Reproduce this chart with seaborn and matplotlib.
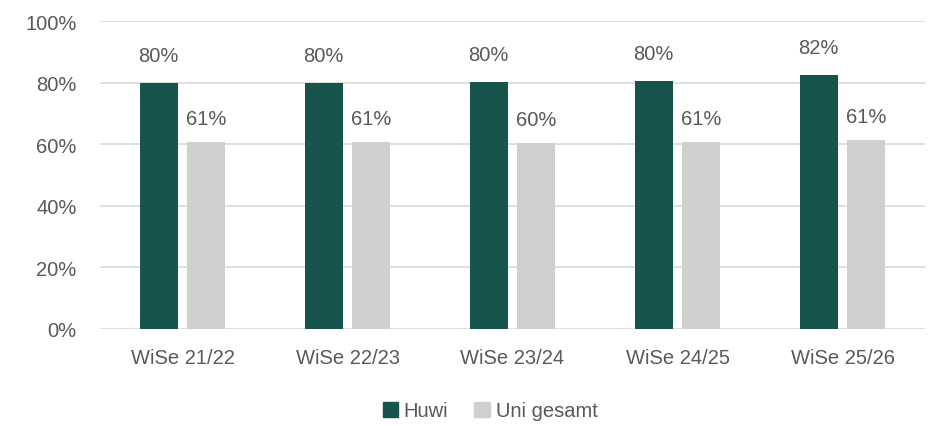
import pandas as pd
import matplotlib.pyplot as plt
import seaborn as sns
from matplotlib.patches import Patch
from matplotlib.ticker import PercentFormatter

# data
semesters = ['WiSe 21/22', 'WiSe 22/23', 'WiSe 23/24', 'WiSe 24/25', 'WiSe 25/26']
huwi = [79.9, 80.0, 80.2, 80.4, 82.4]
uni_gesamt = [60.6, 60.6, 60.4, 60.6, 61.4]
series_names = ['Huwi', 'Uni gesamt']
colors = ['#17544E', '#D0CECE']

df = pd.DataFrame({
    'Semester': semesters * 2,
    'Anteil': huwi + uni_gesamt,
    'Gruppe': [series_names[0]] * len(semesters) + [series_names[1]] * len(semesters),
})

sns.set_theme(style='white')
plt.rcParams['font.family'] = ['Liberation Sans', 'DejaVu Sans']
text_color = '#595959'
fs = 14.5

fig = plt.figure(figsize=(9.38, 4.27), dpi=100)
ax = fig.add_axes([100 / 938, 1 - 330 / 427, 825 / 938, 308 / 427])

sns.barplot(data=df, x='Semester', y='Anteil', hue='Gruppe', palette=colors,
            width=0.576, gap=0.2, ax=ax, legend=False, saturation=1, linewidth=0)

for container, offset in zip(ax.containers, [13, 10]):
    ax.bar_label(container, labels=[f'{round(b.get_height())}%' for b in container],
                 padding=offset, fontsize=fs, color=text_color)

ax.set_ylim(0, 100)
ax.set_xlim(-0.5, len(semesters) - 0.5)
ax.set_yticks(range(0, 101, 20))
ax.yaxis.set_major_formatter(PercentFormatter(decimals=0))
ax.grid(axis='y', color='#D9D9D9', linewidth=1.2)
ax.set_axisbelow(True)
for s in ax.spines.values():
    s.set_visible(False)
ax.set_xlabel('')
ax.set_ylabel('')
ax.tick_params(axis='both', length=0, labelsize=fs, labelcolor=text_color)
ax.tick_params(axis='y', pad=17)
ax.tick_params(axis='x', pad=14)

handles = [Patch(color=c) for c in colors]
fig.legend(handles, series_names, loc='center', bbox_to_anchor=(490 / 938, 1 - 412 / 427),
           ncol=2, frameon=False, fontsize=fs, handlelength=0.75, handleheight=0.75,
           handletextpad=0.3, columnspacing=1.3, labelcolor=text_color)

fig.savefig('out.png', dpi=100)
